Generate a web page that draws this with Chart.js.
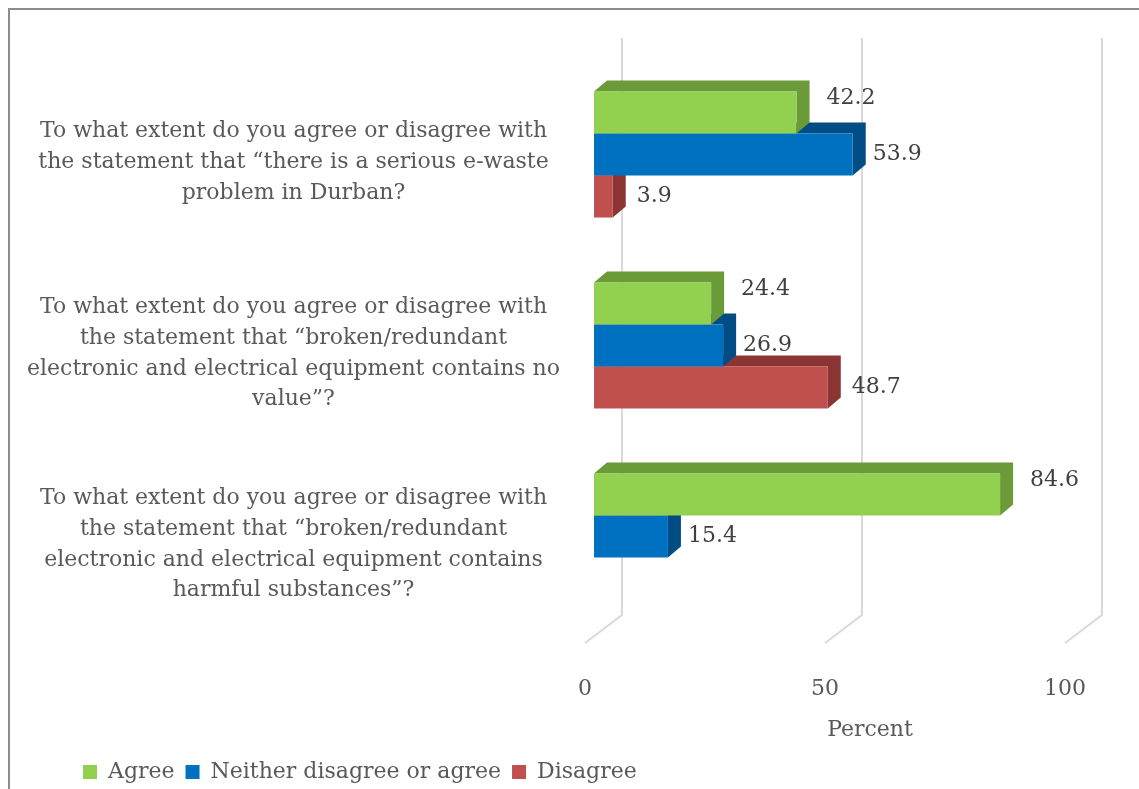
<!DOCTYPE html>
<html>
<head>
<meta charset="utf-8">
<script src="https://cdn.jsdelivr.net/npm/chart.js@4.4.0/dist/chart.umd.min.js"></script>
<style>
    html, body { margin: 0; padding: 0; background: #fff; }
    #wrap { position: relative; width: 1139px; height: 789px; overflow: hidden; }
    #frame { position: absolute; left: 8px; top: 8px; width: 1300px; height: 900px; border: 2px solid #8c8c8c; }
    canvas { position: absolute; left: 0; top: 0; }
</style>
</head>
<body>
<div id="wrap">
    <div id="frame"></div>
    <canvas id="chart" width="1139" height="789"></canvas>
</div>
<script>
// Chart data
const categories = [
    ['To what extent do you agree or disagree with', 'the statement that \u201cthere is a serious e-waste', 'problem in Durban?'],
    ['To what extent do you agree or disagree with', 'the statement that \u201cbroken/redundant', 'electronic and electrical equipment contains no', 'value\u201d?'],
    ['To what extent do you agree or disagree with', 'the statement that \u201cbroken/redundant', 'electronic and electrical equipment contains', 'harmful substances\u201d?']
];
const seriesNames = ['Agree', 'Neither disagree or agree', 'Disagree'];
const agreeValues = [42.2, 24.4, 84.6];
const neitherValues = [53.9, 26.9, 15.4];
const disagreeValues = [3.9, 48.7, null];
const xTickValues = [0, 50, 100];
const xAxisTitle = 'Percent';

const FONT = "'DejaVu Serif', serif";
const frontColors = ['#92d050', '#0070c0', '#c0504d'];
const depthColors = ['#6b9a38', '#004d86', '#8a3533'];
const DEPTH_X = 13, DEPTH_Y = -11;

// draws top and right faces of every bar before the front face
const bars3d = {
    id: 'bars3d',
    beforeDatasetDraw(chart, args) {
        const ctx = chart.ctx;
        const meta = args.meta;
        ctx.save();
        ctx.fillStyle = depthColors[args.index];
        meta.data.forEach((bar, i) => {
            if (chart.data.datasets[args.index].data[i] == null) return;
            const {x, y, base, height} = bar.getProps(['x', 'y', 'base', 'height'], true);
            const top = y - height / 2, bottom = y + height / 2;
            ctx.beginPath();
            ctx.moveTo(base, top);
            ctx.lineTo(base + DEPTH_X, top + DEPTH_Y);
            ctx.lineTo(x + DEPTH_X, top + DEPTH_Y);
            ctx.lineTo(x + DEPTH_X, bottom + DEPTH_Y);
            ctx.lineTo(x, bottom);
            ctx.lineTo(x, top);
            ctx.closePath();
            ctx.fill();
        });
        ctx.restore();
    }
};

// back wall gridlines with the floor diagonal
const wallGrid = {
    id: 'wallGrid',
    afterLayout(chart) {
        // legend sits further right than the axis labels
        chart.legend.left = 72;
        chart.legend.top += 4;
    },
    beforeDatasetsDraw(chart) {
        const {ctx, chartArea, scales: {x}} = chart;
        ctx.save();
        ctx.strokeStyle = '#d9d9d9';
        ctx.lineWidth = 2;
        xTickValues.forEach(v => {
            const px = x.getPixelForValue(v) + 28;
            ctx.beginPath();
            ctx.moveTo(px, chartArea.top - 21);
            ctx.lineTo(px, chartArea.bottom - 17);
            ctx.lineTo(px - 37, chartArea.bottom + 11);
            ctx.stroke();
        });
        ctx.restore();
    }
};

// value labels and the axis title
const valueLabels = {
    id: 'valueLabels',
    afterDatasetsDraw(chart) {
        const ctx = chart.ctx;
        const offsets = [{dx: 30, dy: -14}, {dx: 20, dy: 0}, {dx: 24, dy: 0}];
        ctx.save();
        ctx.font = '22px ' + FONT;
        ctx.fillStyle = '#404040';
        ctx.textAlign = 'left';
        ctx.textBaseline = 'middle';
        chart.data.datasets.forEach((ds, di) => {
            chart.getDatasetMeta(di).data.forEach((bar, i) => {
                if (ds.data[i] == null) return;
                ctx.fillText(ds.data[i].toFixed(1), bar.x + offsets[di].dx, bar.y + offsets[di].dy);
            });
        });
        const area = chart.chartArea;
        ctx.fillStyle = '#595959';
        ctx.textAlign = 'center';
        ctx.fillText(xAxisTitle, (area.left + area.right) / 2 + 36, area.bottom + 98);
        ctx.restore();
    }
};

new Chart(document.getElementById('chart').getContext('2d'), {
    type: 'bar',
    data: {
        labels: categories,
        datasets: [
            { label: seriesNames[0], data: agreeValues, backgroundColor: frontColors[0] },
            { label: seriesNames[1], data: neitherValues, backgroundColor: frontColors[1] },
            { label: seriesNames[2], data: disagreeValues, backgroundColor: frontColors[2] }
        ]
    },
    options: {
        indexAxis: 'y',
        responsive: false,
        animation: false,
        layout: { padding: { left: 10, right: 61, top: 59, bottom: 0 } },
        datasets: {
            bar: { categoryPercentage: 0.66, barPercentage: 1, borderWidth: 0 }
        },
        plugins: {
            legend: {
                position: 'bottom',
                align: 'start',
                labels: {
                    boxWidth: 14,
                    boxHeight: 14,
                    padding: 11,
                    color: '#595959',
                    font: { family: FONT, size: 22 }
                }
            },
            tooltip: { enabled: false }
        },
        scales: {
            x: {
                min: 0,
                max: 100,
                afterBuildTicks: (scale) => { scale.ticks = xTickValues.map(v => ({ value: v })); },
                afterFit: (scale) => { scale.height = 114; },
                grid: { display: false, drawTicks: false },
                border: { display: false },
                ticks: {
                    padding: 44,
                    labelOffset: -9,
                    color: '#595959',
                    font: { family: FONT, size: 22 }
                }
            },
            y: {
                afterFit: (scale) => {
                    scale.width = 584;
                    scale.paddingTop = 0;
                    scale.paddingBottom = 0;
                },
                grid: { display: false, drawTicks: false },
                border: { display: false },
                ticks: {
                    padding: 34,
                    crossAlign: 'center',
                    labelOffset: 8,
                    color: '#595959',
                    font: { family: FONT, size: 22, lineHeight: 1.4 }
                }
            }
        }
    },
    plugins: [wallGrid, bars3d, valueLabels]
});
</script>
</body>
</html>
